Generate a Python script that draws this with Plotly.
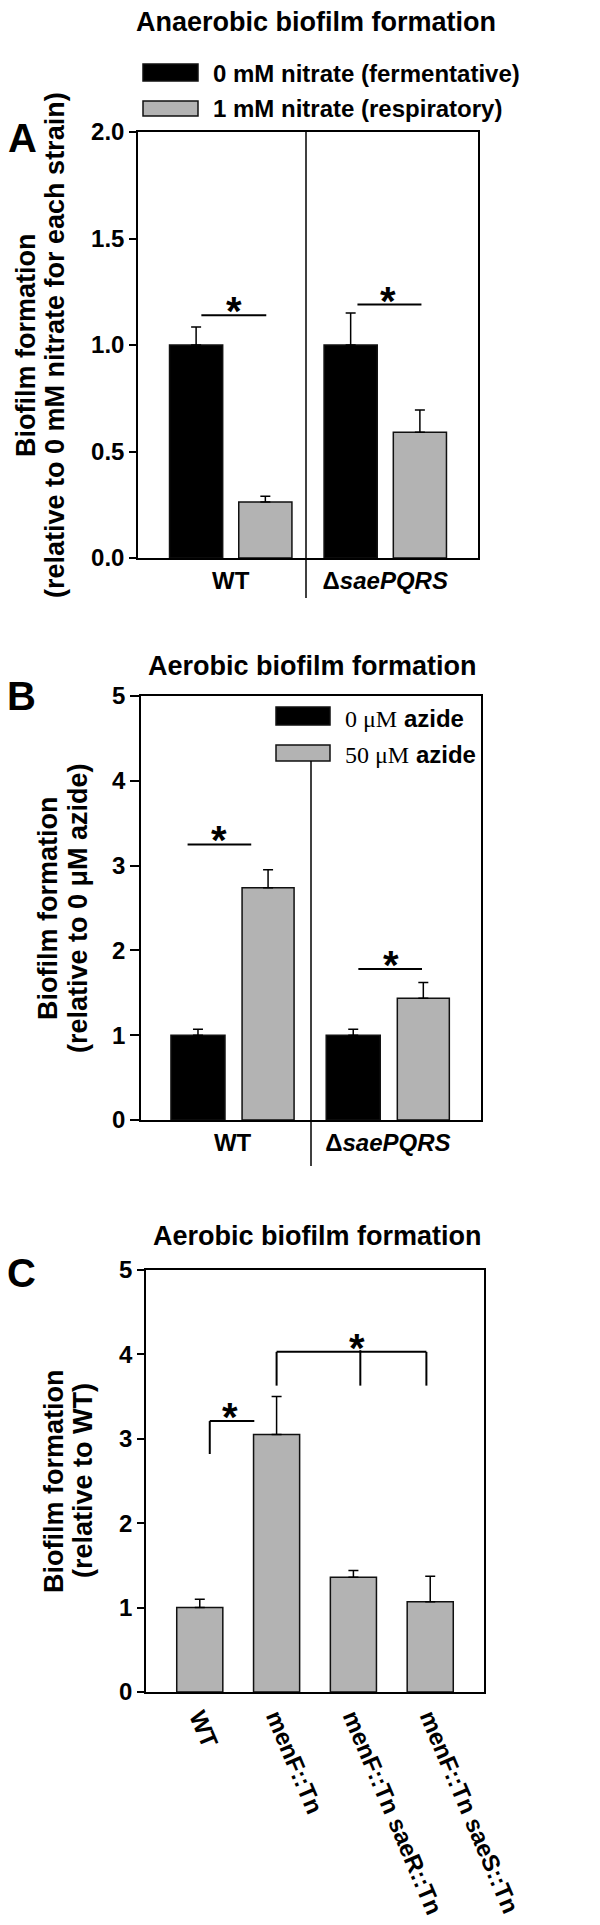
import plotly.graph_objects as go

# ---- data ----
A_groups = ["WT", "Δ<i>saePQRS</i>"]
A_nitrate0 = [1.0, 1.0]
A_nitrate0_err = [0.085, 0.15]
A_nitrate1 = [0.263, 0.59]
A_nitrate1_err = [0.027, 0.105]

B_groups = ["WT", "Δ<i>saePQRS</i>"]
B_azide0 = [1.0, 1.0]
B_azide0_err = [0.07, 0.07]
B_azide50 = [2.74, 1.435]
B_azide50_err = [0.21, 0.185]

C_strains = ["WT", "menF::Tn", "menF::Tn saeR::Tn", "menF::Tn saeS::Tn"]
C_values = [1.0, 3.05, 1.36, 1.07]
C_err = [0.10, 0.45, 0.08, 0.30]

W, H = 600, 1925
FONT = "Liberation Sans, Arial, sans-serif"
BLACK = "#000000"
GREY = "#b3b3b3"


def px(x):
    return x / W


def py(y):
    return 1 - y / H


def bar(x, y, err, color, offset, width, xa, ya):
    return go.Bar(
        x=x, y=y, xaxis=xa, yaxis=ya,
        offset=offset, width=width,
        marker=dict(color=color, line=dict(color="#111111", width=1.5)),
        error_y=dict(type="data", symmetric=False, array=err,
                     arrayminus=[0] * len(err), color="black",
                     thickness=1.5, width=5),
        showlegend=False,
    )


fig = go.Figure()

# Panel A
fig.add_trace(bar(A_groups, A_nitrate0, A_nitrate0_err, BLACK, -0.396, 0.344, "x", "y"))
fig.add_trace(bar(A_groups, A_nitrate1, A_nitrate1_err, GREY, 0.052, 0.344, "x", "y"))
# Panel B
fig.add_trace(bar(B_groups, B_azide0, B_azide0_err, BLACK, -0.397, 0.348, "x2", "y2"))
fig.add_trace(bar(B_groups, B_azide50, B_azide50_err, GREY, 0.061, 0.335, "x2", "y2"))
# Panel C
fig.add_trace(bar(C_strains, C_values, C_err, GREY, -0.3, 0.6, "x3", "y3"))

axis_common = dict(showline=True, linecolor="black", linewidth=1.5, mirror=True,
                   showgrid=False, zeroline=False, automargin=False)
yfont = dict(family=FONT, size=24, color="black", weight="bold")
xfont = dict(family=FONT, size=24, color="black", weight="bold")

fig.update_layout(
    width=W, height=H,
    margin=dict(l=0, r=0, t=0, b=0),
    paper_bgcolor="white", plot_bgcolor="white",
    barmode="overlay",
    xaxis=dict(domain=[px(130), px(470)], anchor="y", range=[-0.6, 1.6],
               ticks="", tickfont=xfont, **axis_common),
    yaxis=dict(domain=[py(550), py(124)], anchor="x", range=[0, 2.0],
               tickvals=[0, 0.5, 1.0, 1.5, 2.0], tickformat=".1f",
               ticks="outside", ticklen=7, tickwidth=1.5, tickcolor="black",
               tickfont=yfont, **axis_common),
    xaxis2=dict(domain=[px(133), px(473)], anchor="y2", range=[-0.59, 1.6],
                ticks="", tickfont=xfont, **axis_common),
    yaxis2=dict(domain=[py(1112), py(688)], anchor="x2", range=[0, 5],
                tickvals=[0, 1, 2, 3, 4, 5],
                ticks="outside", ticklen=9, tickwidth=1.5, tickcolor="black",
                tickfont=yfont, **axis_common),
    xaxis3=dict(domain=[px(138), px(476)], anchor="y3", range=[-0.7, 3.7],
                ticks="", tickangle=67, tickfont=xfont, **axis_common),
    yaxis3=dict(domain=[py(1684), py(1262)], anchor="x3", range=[0, 5],
                tickvals=[0, 1, 2, 3, 4, 5],
                ticks="outside", ticklen=7, tickwidth=1.5, tickcolor="black",
                tickfont=yfont, **axis_common),
)

ann = []
shapes = []


def text(x, y, t, size, angle=0, xanchor="center", weight="bold"):
    ann.append(dict(x=px(x), y=py(y), xref="paper", yref="paper", text=t,
                    showarrow=False, textangle=angle, xanchor=xanchor,
                    yanchor="middle",
                    font=dict(family=FONT, size=size, color="black", weight=weight)))


def rect(x0, y0, x1, y1, color):
    shapes.append(dict(type="rect", xref="paper", yref="paper",
                       x0=px(x0), x1=px(x1), y0=py(y1), y1=py(y0),
                       fillcolor=color, line=dict(color="#111111", width=1.5)))


def vline_px(x, y0, y1):
    shapes.append(dict(type="line", xref="paper", yref="paper",
                       x0=px(x), x1=px(x), y0=py(y0), y1=py(y1),
                       line=dict(color="black", width=1.5)))


def dline(xa, ya, x0, y0, x1, y1, w=2):
    shapes.append(dict(type="line", xref=xa, yref=ya, x0=x0, x1=x1, y0=y0, y1=y1,
                       line=dict(color="black", width=w)))


def star(xa, ya, x, y):
    ann.append(dict(x=x, y=y, xref=xa, yref=ya, text="*", showarrow=False,
                    yanchor="bottom", yshift=-20,
                    font=dict(family=FONT, size=40, color="black", weight="bold")))


# ---- Panel A decorations ----
text(308, 14, "Anaerobic biofilm formation", 27)
rect(135, 56, 190, 73, BLACK)
rect(135, 93, 190, 108, GREY)
text(203, 65, "0 mM nitrate (fermentative)", 24, xanchor="left")
text(203, 100, "1 mM nitrate (respiratory)", 24, xanchor="left")
text(14, 130, "A", 40)
text(18, 337, "Biofilm formation", 27, angle=-90)
text(47, 337, "(relative to 0 mM nitrate for each strain)", 27, angle=-90)
vline_px(298, 124, 590)
dline("x", "y", -0.19, 1.14, 0.23, 1.14)
dline("x", "y", 0.82, 1.19, 1.234, 1.19)
star("x", "y", 0.02, 1.14)
star("x", "y", 1.02, 1.19)

# ---- Panel B decorations ----
text(304, 658, "Aerobic biofilm formation", 27)
text(13, 688, "B", 40)
text(40, 900, "Biofilm formation", 27, angle=-90)
text(70, 900, "(relative to 0 μM azide)", 27, angle=-90)
rect(268, 699, 322, 717, BLACK)
rect(268, 737, 322, 753, GREY)
sf = "<span style='font-family:Liberation Serif;font-weight:normal'>"
text(335, 710, sf + "0 μM</span> azide", 24, xanchor="left")
text(335, 747, sf + "50 μM</span> azide", 24, xanchor="left")
vline_px(303, 753, 1158)
dline("x2", "y2", -0.29, 3.25, 0.12, 3.25)
dline("x2", "y2", 0.81, 1.78, 1.22, 1.78)
star("x2", "y2", -0.09, 3.25)
star("x2", "y2", 1.02, 1.78)

# ---- Panel C decorations ----
text(309, 1228, "Aerobic biofilm formation", 27)
text(13, 1265, "C", 40)
text(46, 1473, "Biofilm formation", 27, angle=-90)
text(75, 1473, "(relative to WT)", 27, angle=-90)
dline("x3", "y3", 0.13, 2.82, 0.13, 3.21)
dline("x3", "y3", 0.13, 3.21, 0.71, 3.21)
star("x3", "y3", 0.39, 3.21)
dline("x3", "y3", 1.0, 4.03, 2.95, 4.03)
dline("x3", "y3", 1.0, 4.03, 1.0, 3.63)
dline("x3", "y3", 2.09, 4.05, 2.09, 3.63)
dline("x3", "y3", 2.95, 4.03, 2.95, 3.63)
star("x3", "y3", 2.05, 4.03)

fig.update_layout(annotations=ann, shapes=shapes)

fig.write_html("out.html")
